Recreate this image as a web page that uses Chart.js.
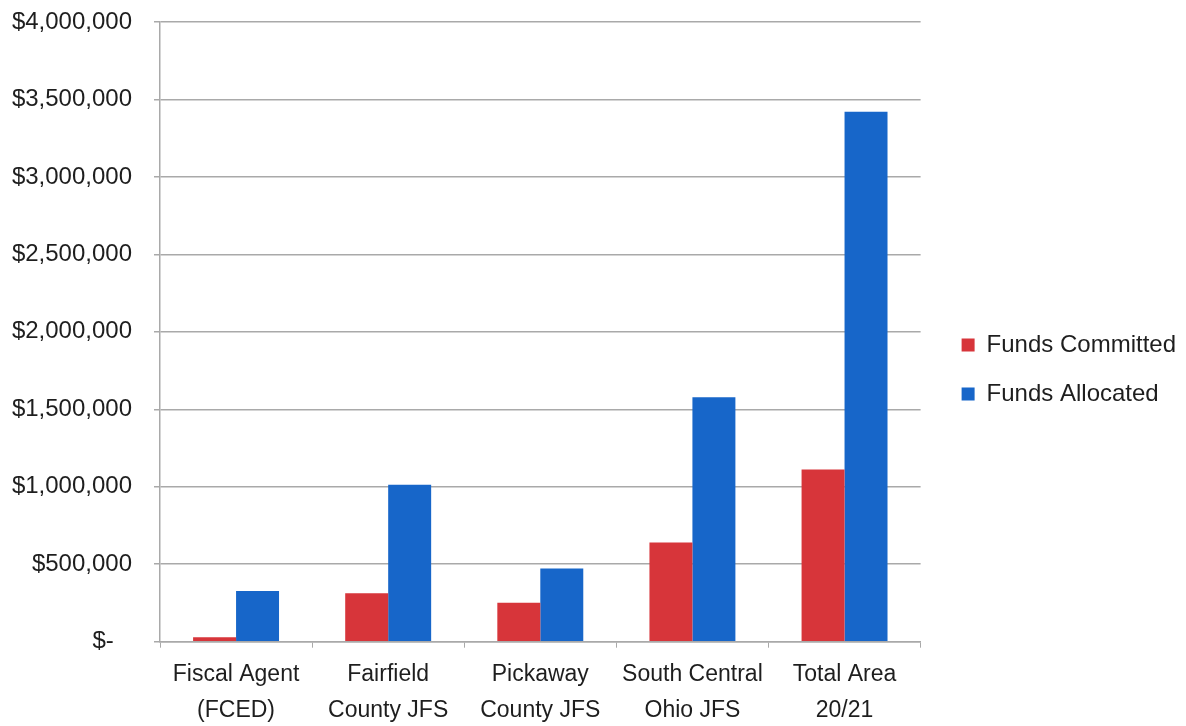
<!DOCTYPE html>
<html>
<head>
<meta charset="utf-8">
<title>Funds Committed vs Funds Allocated</title>
<script src="https://cdn.jsdelivr.net/npm/chart.js@4.4.1/dist/chart.umd.min.js"></script>
<style>
  html, body { margin: 0; padding: 0; background: #ffffff; }
  #wrap { width: 1186px; height: 726px; position: relative; }
</style>
</head>
<body>
<div id="wrap"><canvas id="chart"></canvas></div>
<script>
// Categories (two-line labels) and the two series, in dollars
const categories = [
  ['Fiscal Agent', '(FCED)'],
  ['Fairfield', 'County JFS'],
  ['Pickaway', 'County JFS'],
  ['South Central', 'Ohio JFS'],
  ['Total Area', '20/21']
];
const fundsCommitted = [28000, 313000, 252000, 641000, 1111000];
const fundsAllocated = [328000, 1013000, 473000, 1578000, 3420000];

// Value axis ticks
const yMin = 0;
const yMax = 4000000;
const yStep = 500000;

const FONT = '"Liberation Sans", Arial, sans-serif';
const TEXT = '#1e1e1e';
const GRID = '#a9a9a9';

// Accounting-style dollar label: zero shows as "$-"
function dollarLabel(v) {
  if (v === 0) return '$-  \u2009';
  return '$' + v.toLocaleString('en-US');
}

// Leaves a gap between the plot and the legend entries
const legendGap = {
  id: 'legendGap',
  afterLayout(chart) {
    const lg = chart.legend;
    if (!lg) return;
    lg.left += 16;
    lg.right += 16;
    lg.top += 1;
    lg.bottom += 1;
  }
};

new Chart(document.getElementById('chart'), {
  type: 'bar',
  data: {
    labels: categories,
    datasets: [
      {
        label: 'Funds Committed',
        data: fundsCommitted,
        backgroundColor: '#d7353a',
        borderWidth: 0,
        categoryPercentage: 0.565,
        barPercentage: 1.0
      },
      {
        label: 'Funds Allocated',
        data: fundsAllocated,
        backgroundColor: '#1766c9',
        borderWidth: 0,
        categoryPercentage: 0.565,
        barPercentage: 1.0
      }
    ]
  },
  plugins: [legendGap],
  options: {
    responsive: true,
    maintainAspectRatio: false,
    animation: false,
    layout: { padding: { left: 0, top: 0, right: 16, bottom: -11 } },
    plugins: {
      tooltip: { enabled: false },
      legend: {
        position: 'right',
        align: 'center',
        labels: {
          boxWidth: 13,
          boxHeight: 13,
          padding: 25,
          color: TEXT,
          font: { family: FONT, size: 24 }
        }
      }
    },
    scales: {
      x: {
        offset: true,
        grid: {
          offset: true,
          drawOnChartArea: false,
          drawTicks: true,
          tickLength: 6,
          color: GRID
        },
        border: { color: GRID, width: 1.5 },
        ticks: {
          color: TEXT,
          padding: 9,
          maxRotation: 0,
          autoSkip: false,
          font: { family: FONT, size: 23, lineHeight: 1.55 }
        }
      },
      y: {
        min: yMin,
        max: yMax,
        afterFit: (scale) => {
          scale.width = 160;
          scale.paddingTop = 22;
          scale.paddingBottom = 0;
        },
        grid: {
          color: GRID,
          lineWidth: 1.5,
          drawTicks: true,
          tickLength: 6
        },
        border: { color: GRID, width: 1.5 },
        ticks: {
          stepSize: yStep,
          color: TEXT,
          padding: 22,
          font: { family: FONT, size: 24 },
          callback: dollarLabel
        }
      }
    }
  }
});
</script>
</body>
</html>
